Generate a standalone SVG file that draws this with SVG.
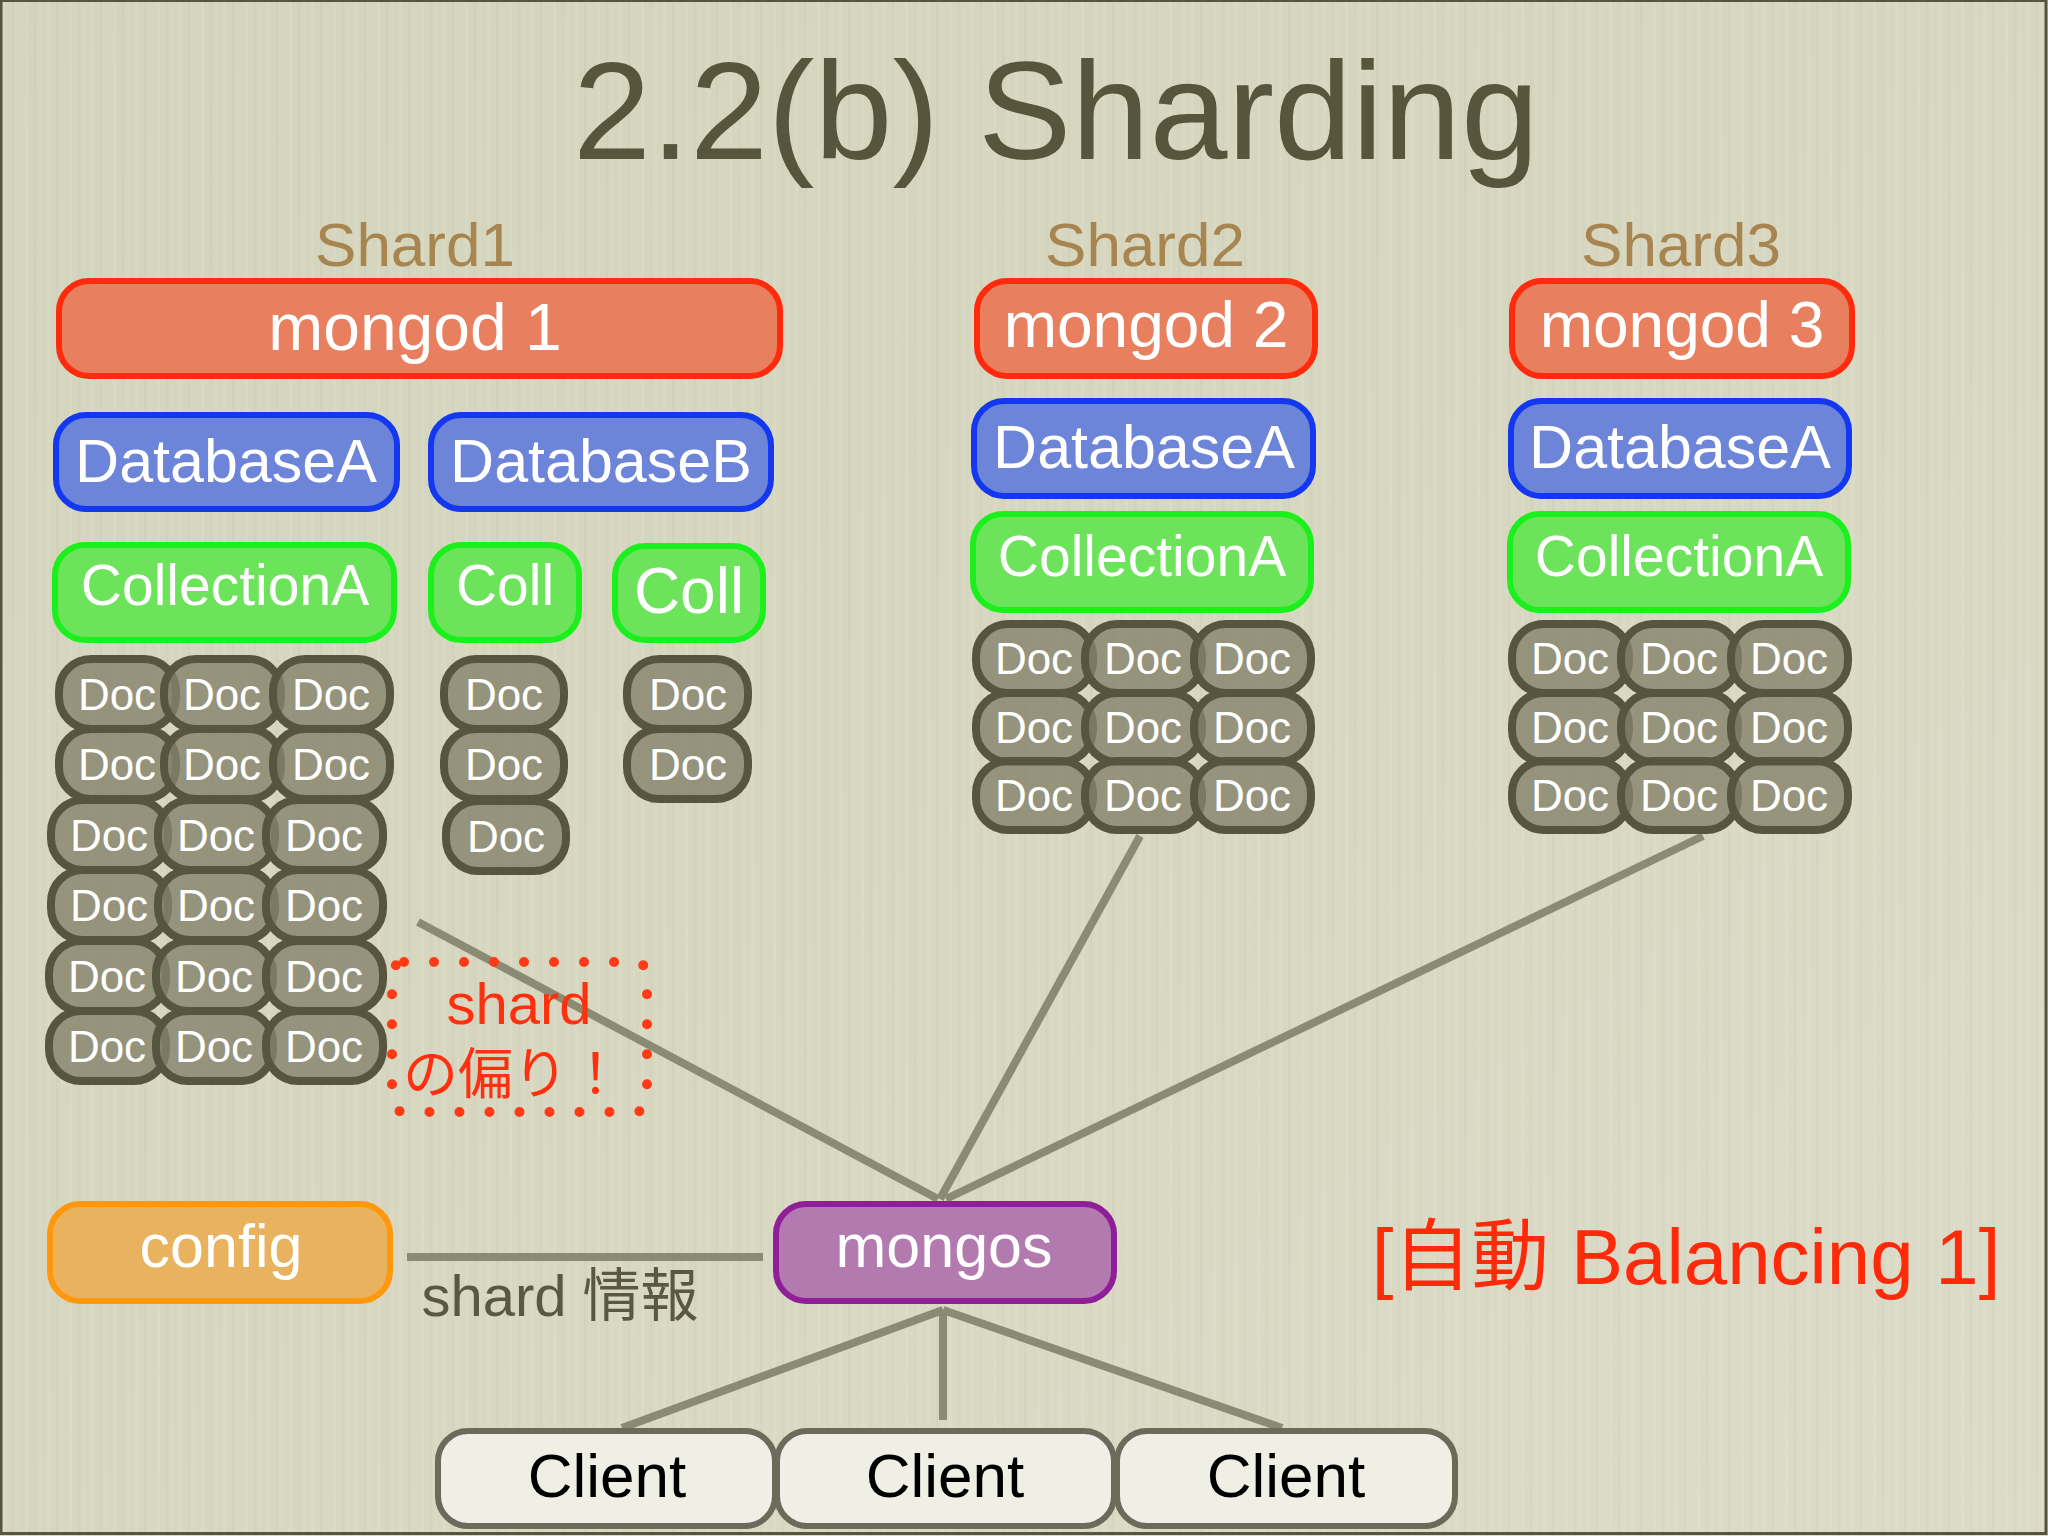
<svg xmlns="http://www.w3.org/2000/svg" width="2048" height="1536" viewBox="0 0 2048 1536">
<defs>
<linearGradient id="bg" x1="0" y1="0" x2="1" y2="1">
<stop offset="0" stop-color="#d4d5bd"/>
<stop offset="0.5" stop-color="#d7d7c1"/>
<stop offset="1" stop-color="#dcdbc8"/>
</linearGradient>
<pattern id="tex" width="22" height="1536" patternUnits="userSpaceOnUse">
<rect x="3" y="0" width="3" height="1536" fill="#ffffff" opacity="0.07"/>
<rect x="12" y="0" width="2" height="1536" fill="#8a8870" opacity="0.05"/>
<rect x="17" y="0" width="2" height="1536" fill="#ffffff" opacity="0.05"/>
</pattern>
</defs>
<style>
text{font-family:"Liberation Sans","Noto Sans CJK JP",sans-serif;text-anchor:middle}
.w{fill:#ffffff}
.mongod{fill:#e8805f;stroke:#ff2b0c;stroke-width:6}
.db{fill:#6d85d9;stroke:#1438f0;stroke-width:6}
.coll{fill:#6ce35a;stroke:#1cf01c;stroke-width:6}
.doc{fill:#84826a;fill-opacity:0.8;stroke:#57553f;stroke-width:8}
.config{fill:#e9b25e;stroke:#ff980c;stroke-width:6}
.mongos{fill:#b27aae;stroke:#8e1f98;stroke-width:6}
.client{fill:#efefe6;stroke:#6c6a5a;stroke-width:6}
.shard{fill:#a8844f;font-size:62px}
.big{font-size:66px}
.dbt{font-size:61px}
.mid{font-size:61px}
.ct{font-size:57px}
.dt{fill:#ffffff;font-size:44px}
.cl{fill:#000000;font-size:62px}
.conn{stroke:#8b8a72;stroke-width:8;fill:none}
</style>
<rect width="2048" height="1536" fill="url(#bg)"/>
<rect width="2048" height="1536" fill="url(#tex)"/>
<rect x="1" y="0.5" width="2045" height="1533" fill="none" stroke="#57553f" stroke-width="3"/>

<text x="1056" y="159" font-size="140" fill="#57553b" textLength="966" lengthAdjust="spacingAndGlyphs">2.2(b) Sharding</text>

<g id="connectors">
<line class="conn" x1="418" y1="922" x2="938" y2="1199"/>
<line class="conn" x1="1140" y1="836" x2="940" y2="1199"/>
<line class="conn" x1="1703" y1="836" x2="946" y2="1199"/>
<line class="conn" x1="407" y1="1257" x2="763" y2="1257" stroke-width="10"/>
<line class="conn" x1="943" y1="1310" x2="622" y2="1428"/>
<line class="conn" x1="943" y1="1310" x2="943" y2="1420" stroke-width="5"/>
<line class="conn" x1="943" y1="1310" x2="1282" y2="1428"/>
</g>

<g id="labels">
<text class="shard" x="415" y="266">Shard1</text>
<text class="shard" x="1145" y="266">Shard2</text>
<text class="shard" x="1681" y="266">Shard3</text>
</g>

<g id="mongod1"><rect class="mongod" x="59" y="281" width="721" height="95" rx="30"/><text class="w big" x="415" y="350">mongod 1</text></g>
<g id="mongod2"><rect class="mongod" x="977" y="281" width="338" height="95" rx="30"/><text class="w" font-size="64" x="1146" y="347">mongod 2</text></g>
<g id="mongod3"><rect class="mongod" x="1512" y="281" width="340" height="95" rx="30"/><text class="w" font-size="64" x="1682" y="347">mongod 3</text></g>

<g id="s1-dbA"><rect class="db" x="56" y="415" width="341" height="94" rx="30"/><text class="w dbt" x="226" y="482">DatabaseA</text></g>
<g id="s1-dbB"><rect class="db" x="431" y="415" width="340" height="94" rx="30"/><text class="w dbt" x="601" y="482">DatabaseB</text></g>
<g id="s2-dbA"><rect class="db" x="974" y="401" width="339" height="95" rx="30"/><text class="w dbt" x="1144" y="468">DatabaseA</text></g>
<g id="s3-dbA"><rect class="db" x="1511" y="401" width="338" height="95" rx="30"/><text class="w dbt" x="1680" y="468">DatabaseA</text></g>

<g id="s1-collA"><rect class="coll" x="55" y="545" width="339" height="95" rx="30"/><text class="w ct" x="225" y="605">CollectionA</text></g>
<g id="s1-coll1"><rect class="coll" x="431" y="545" width="148" height="95" rx="30"/><text class="w ct" x="505" y="605">Coll</text></g>
<g id="s1-coll2"><rect class="coll" x="615" y="546" width="148" height="94" rx="30"/><text class="w" font-size="64" x="689" y="613">Coll</text></g>
<g id="s2-collA"><rect class="coll" x="973" y="514" width="338" height="96" rx="30"/><text class="w ct" x="1142" y="576">CollectionA</text></g>
<g id="s3-collA"><rect class="coll" x="1510" y="514" width="338" height="96" rx="30"/><text class="w ct" x="1679" y="576">CollectionA</text></g>

<g id="s1-docs">
<rect class="doc" x="59" y="659" width="117" height="70" rx="32"/><text class="dt" x="117" y="710">Doc</text>
<rect class="doc" x="164" y="659" width="117" height="70" rx="32"/><text class="dt" x="222" y="710">Doc</text>
<rect class="doc" x="273" y="659" width="117" height="70" rx="32"/><text class="dt" x="331" y="710">Doc</text>
<rect class="doc" x="59" y="729" width="117" height="70" rx="32"/><text class="dt" x="117" y="780">Doc</text>
<rect class="doc" x="164" y="729" width="117" height="70" rx="32"/><text class="dt" x="222" y="780">Doc</text>
<rect class="doc" x="273" y="729" width="117" height="70" rx="32"/><text class="dt" x="331" y="780">Doc</text>
<rect class="doc" x="51" y="800" width="117" height="70" rx="32"/><text class="dt" x="109" y="851">Doc</text>
<rect class="doc" x="158" y="800" width="117" height="70" rx="32"/><text class="dt" x="216" y="851">Doc</text>
<rect class="doc" x="266" y="800" width="117" height="70" rx="32"/><text class="dt" x="324" y="851">Doc</text>
<rect class="doc" x="51" y="870" width="117" height="70" rx="32"/><text class="dt" x="109" y="921">Doc</text>
<rect class="doc" x="158" y="870" width="117" height="70" rx="32"/><text class="dt" x="216" y="921">Doc</text>
<rect class="doc" x="266" y="870" width="117" height="70" rx="32"/><text class="dt" x="324" y="921">Doc</text>
<rect class="doc" x="49" y="941" width="117" height="70" rx="32"/><text class="dt" x="107" y="992">Doc</text>
<rect class="doc" x="156" y="941" width="117" height="70" rx="32"/><text class="dt" x="214" y="992">Doc</text>
<rect class="doc" x="266" y="941" width="117" height="70" rx="32"/><text class="dt" x="324" y="992">Doc</text>
<rect class="doc" x="49" y="1011" width="117" height="70" rx="32"/><text class="dt" x="107" y="1062">Doc</text>
<rect class="doc" x="156" y="1011" width="117" height="70" rx="32"/><text class="dt" x="214" y="1062">Doc</text>
<rect class="doc" x="266" y="1011" width="117" height="70" rx="32"/><text class="dt" x="324" y="1062">Doc</text>
</g>
<g id="s1b-docs">
<rect class="doc" x="444" y="659" width="120" height="70" rx="32"/><text class="dt" x="504" y="710">Doc</text>
<rect class="doc" x="444" y="729" width="120" height="70" rx="32"/><text class="dt" x="504" y="780">Doc</text>
<rect class="doc" x="446" y="801" width="120" height="70" rx="32"/><text class="dt" x="506" y="852">Doc</text>
<rect class="doc" x="627" y="659" width="121" height="70" rx="32"/><text class="dt" x="688" y="710">Doc</text>
<rect class="doc" x="627" y="729" width="121" height="70" rx="32"/><text class="dt" x="688" y="780">Doc</text>
</g>
<g id="s2-docs">
<rect class="doc" x="976" y="624" width="117" height="69" rx="32"/><text class="dt" x="1034" y="674">Doc</text>
<rect class="doc" x="1085" y="624" width="117" height="69" rx="32"/><text class="dt" x="1143" y="674">Doc</text>
<rect class="doc" x="1194" y="624" width="117" height="69" rx="32"/><text class="dt" x="1252" y="674">Doc</text>
<rect class="doc" x="976" y="693" width="117" height="69" rx="32"/><text class="dt" x="1034" y="743">Doc</text>
<rect class="doc" x="1085" y="693" width="117" height="69" rx="32"/><text class="dt" x="1143" y="743">Doc</text>
<rect class="doc" x="1194" y="693" width="117" height="69" rx="32"/><text class="dt" x="1252" y="743">Doc</text>
<rect class="doc" x="976" y="761" width="117" height="69" rx="32"/><text class="dt" x="1034" y="811">Doc</text>
<rect class="doc" x="1085" y="761" width="117" height="69" rx="32"/><text class="dt" x="1143" y="811">Doc</text>
<rect class="doc" x="1194" y="761" width="117" height="69" rx="32"/><text class="dt" x="1252" y="811">Doc</text>
</g>
<g id="s3-docs">
<rect class="doc" x="1512" y="624" width="117" height="69" rx="32"/><text class="dt" x="1570" y="674">Doc</text>
<rect class="doc" x="1621" y="624" width="117" height="69" rx="32"/><text class="dt" x="1679" y="674">Doc</text>
<rect class="doc" x="1731" y="624" width="117" height="69" rx="32"/><text class="dt" x="1789" y="674">Doc</text>
<rect class="doc" x="1512" y="693" width="117" height="69" rx="32"/><text class="dt" x="1570" y="743">Doc</text>
<rect class="doc" x="1621" y="693" width="117" height="69" rx="32"/><text class="dt" x="1679" y="743">Doc</text>
<rect class="doc" x="1731" y="693" width="117" height="69" rx="32"/><text class="dt" x="1789" y="743">Doc</text>
<rect class="doc" x="1512" y="761" width="117" height="69" rx="32"/><text class="dt" x="1570" y="811">Doc</text>
<rect class="doc" x="1621" y="761" width="117" height="69" rx="32"/><text class="dt" x="1679" y="811">Doc</text>
<rect class="doc" x="1731" y="761" width="117" height="69" rx="32"/><text class="dt" x="1789" y="811">Doc</text>
</g>

<g id="skew-note">
<rect x="392" y="962" width="255" height="150" rx="12" fill="none" stroke="#ff3a14" stroke-width="10" stroke-linecap="round" stroke-dasharray="0 30"/>
<text x="519" y="1024" font-size="58" fill="#ff3010">shard</text>
<text x="513" y="1093" font-size="55" fill="#ff3010">の偏り！</text>
</g>

<g id="config"><rect class="config" x="50" y="1204" width="340" height="97" rx="30"/><text class="w mid" x="221" y="1267">config</text></g>
<text x="560" y="1316" font-size="58" fill="#5a5840">shard 情報</text>
<g id="mongos"><rect class="mongos" x="776" y="1204" width="338" height="97" rx="30"/><text class="w mid" x="944" y="1267">mongos</text></g>

<g id="client1"><rect class="client" x="438" y="1431" width="337" height="95" rx="30"/><text class="cl" x="607" y="1497">Client</text></g>
<g id="client2"><rect class="client" x="777" y="1431" width="337" height="95" rx="30"/><text class="cl" x="945" y="1497">Client</text></g>
<g id="client3"><rect class="client" x="1117" y="1431" width="338" height="95" rx="30"/><text class="cl" x="1286" y="1497">Client</text></g>

<text x="1686" y="1284" font-size="78" fill="#ff2a0a">[自動 Balancing 1]</text>
</svg>
